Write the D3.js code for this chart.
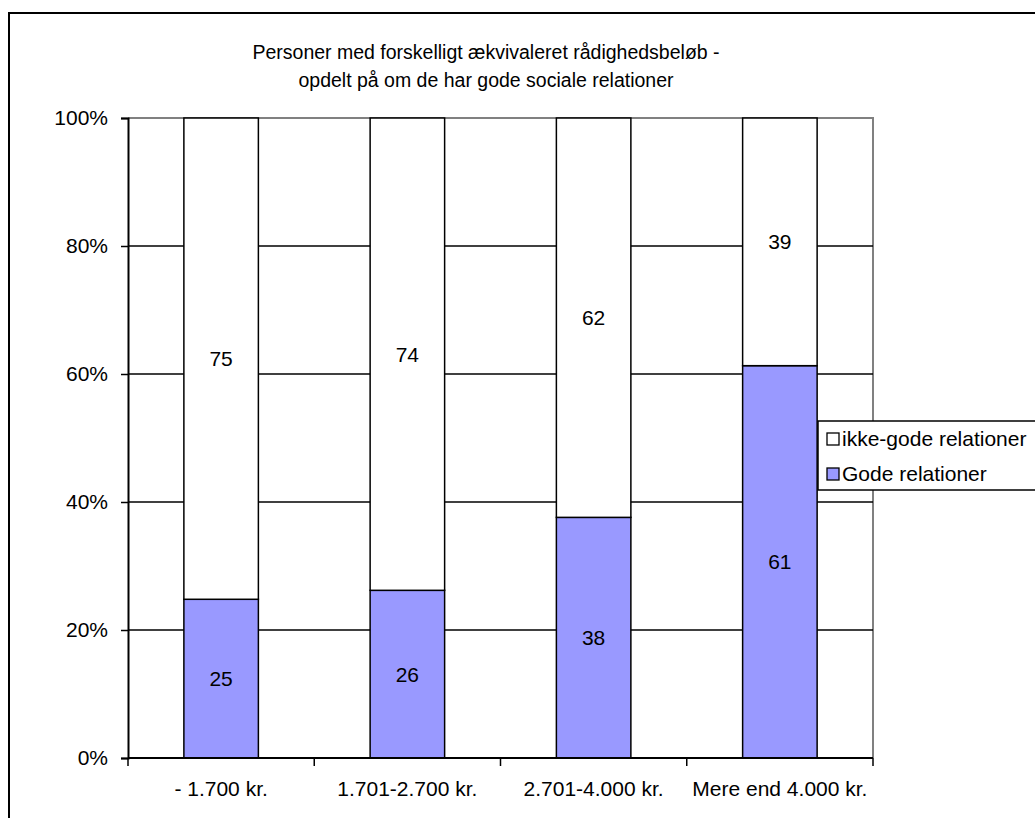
<!DOCTYPE html>
<html>
<head>
<meta charset="utf-8">
<script src="https://cdn.jsdelivr.net/npm/d3@7"></script>
<style>
  body { margin: 0; background: #fff; }
  svg { display: block; font-family: "Liberation Sans", Arial, sans-serif; }
</style>
</head>
<body>
<script>
// Data (percent)
const categories = ["- 1.700 kr.", "1.701-2.700 kr.", "2.701-4.000 kr.", "Mere end 4.000 kr."];
const gode = [24.8, 26.2, 37.6, 61.3];
const ikkeGode = [75.2, 73.8, 62.4, 38.7];
const yTicks = [0, 20, 40, 60, 80, 100];
const titleLines = ["Personer med forskelligt ækvivaleret rådighedsbeløb -", "opdelt på om de har gode sociale relationer"];
const seriesNames = ["ikke-gode relationer", "Gode relationer"];
const seriesColors = ["#ffffff", "#9999ff"];

const W = 1035, H = 818;
const fs = 21;
const plot = {left: 128, top: 118, right: 873, bottom: 758};

const svg = d3.select("body").append("svg")
    .attr("width", W)
    .attr("height", H);

svg.append("rect")
    .attr("width", W).attr("height", H)
    .attr("fill", "#fff");

// outer chart frame (runs off the right/bottom edge)
svg.append("rect")
    .attr("x", 9).attr("y", 13)
    .attr("width", W + 20).attr("height", H + 20)
    .attr("fill", "none")
    .attr("stroke", "#000")
    .attr("stroke-width", 2);

// title
svg.append("g").selectAll("text")
    .data(titleLines)
    .join("text")
    .attr("x", 486)
    .attr("y", (d, i) => 59 + i * 28)
    .attr("text-anchor", "middle")
    .attr("font-size", 19.5)
    .text(d => d);

const x = d3.scaleBand()
    .domain(categories)
    .range([plot.left, plot.right])
    .paddingInner(0.6)
    .paddingOuter(0.3);

const y = d3.scaleLinear()
    .domain([0, 100])
    .range([plot.bottom, plot.top]);

// plot border (grey top / right)
svg.append("path")
    .attr("d", `M${plot.left},${plot.top}H${plot.right}V${plot.bottom}`)
    .attr("fill", "none")
    .attr("stroke", "#808080")
    .attr("stroke-width", 2);

// gridlines
svg.append("g").selectAll("line")
    .data(yTicks.filter(t => t > 0 && t < 100))
    .join("line")
    .attr("x1", plot.left).attr("x2", plot.right)
    .attr("y1", d => y(d)).attr("y2", d => y(d))
    .attr("stroke", "#000")
    .attr("stroke-width", 1.3);

// stacked bars
const stacked = categories.map((c, i) => ({cat: c, lo: gode[i], hi: ikkeGode[i]}));

const bars = svg.append("g");
bars.selectAll("rect.gode")
    .data(stacked)
    .join("rect")
    .attr("class", "gode")
    .attr("x", d => x(d.cat))
    .attr("width", x.bandwidth())
    .attr("y", d => y(d.lo))
    .attr("height", d => y(0) - y(d.lo))
    .attr("fill", seriesColors[1])
    .attr("stroke", "#000")
    .attr("stroke-width", 1.5);

bars.selectAll("rect.ikke")
    .data(stacked)
    .join("rect")
    .attr("class", "ikke")
    .attr("x", d => x(d.cat))
    .attr("width", x.bandwidth())
    .attr("y", d => y(d.lo + d.hi))
    .attr("height", d => y(d.lo) - y(d.lo + d.hi))
    .attr("fill", seriesColors[0])
    .attr("stroke", "#000")
    .attr("stroke-width", 1.5);

// value labels
const labels = svg.append("g")
    .attr("font-size", fs)
    .attr("text-anchor", "middle");
labels.selectAll("text.lo")
    .data(stacked)
    .join("text")
    .attr("class", "lo")
    .attr("x", d => x(d.cat) + x.bandwidth() / 2)
    .attr("y", d => (y(0) + y(d.lo)) / 2)
    .attr("dy", "0.35em")
    .text(d => Math.round(d.lo));
labels.selectAll("text.hi")
    .data(stacked)
    .join("text")
    .attr("class", "hi")
    .attr("x", d => x(d.cat) + x.bandwidth() / 2)
    .attr("y", d => (y(d.lo) + y(d.lo + d.hi)) / 2)
    .attr("dy", "0.35em")
    .text(d => Math.round(d.hi));

// y axis
const yAxis = svg.append("g")
    .attr("transform", `translate(${plot.left},0)`)
    .call(d3.axisLeft(y).tickValues(yTicks).tickFormat(d => d + "%").tickSize(7).tickPadding(13));
yAxis.select(".domain").attr("stroke", "#000").attr("stroke-width", 2);
yAxis.selectAll(".tick line").attr("stroke", "#000").attr("stroke-width", 1.5);
yAxis.selectAll("text").attr("font-size", fs).attr("font-family", null).attr("fill", "#000");

// x axis with ticks at category boundaries
const xAxis = svg.append("g")
    .attr("transform", `translate(0,${plot.bottom})`);
xAxis.append("line")
    .attr("x1", plot.left).attr("x2", plot.right)
    .attr("stroke", "#000").attr("stroke-width", 2);
const step = x.step();
xAxis.selectAll("line.tk")
    .data(d3.range(categories.length + 1))
    .join("line")
    .attr("class", "tk")
    .attr("x1", i => plot.left + i * step)
    .attr("x2", i => plot.left + i * step)
    .attr("y1", 0).attr("y2", 8)
    .attr("stroke", "#000").attr("stroke-width", 1.5);
xAxis.selectAll("text")
    .data(categories)
    .join("text")
    .attr("x", d => x(d) + x.bandwidth() / 2)
    .attr("y", 38)
    .attr("text-anchor", "middle")
    .attr("font-size", fs)
    .text(d => d);

// legend
const legend = svg.append("g").attr("transform", "translate(818,421)");
legend.append("rect")
    .attr("width", 240).attr("height", 69)
    .attr("fill", "#fff")
    .attr("stroke", "#000")
    .attr("stroke-width", 1.5);
const li = legend.selectAll("g.item")
    .data(seriesNames)
    .join("g")
    .attr("class", "item")
    .attr("transform", (d, i) => `translate(0,${18 + i * 35})`);
li.append("rect")
    .attr("x", 9).attr("y", -6)
    .attr("width", 12).attr("height", 12)
    .attr("fill", (d, i) => seriesColors[i])
    .attr("stroke", "#000")
    .attr("stroke-width", 1.3);
li.append("text")
    .attr("x", 24)
    .attr("dy", "0.35em")
    .attr("font-size", fs)
    .text(d => d);
</script>
</body>
</html>
